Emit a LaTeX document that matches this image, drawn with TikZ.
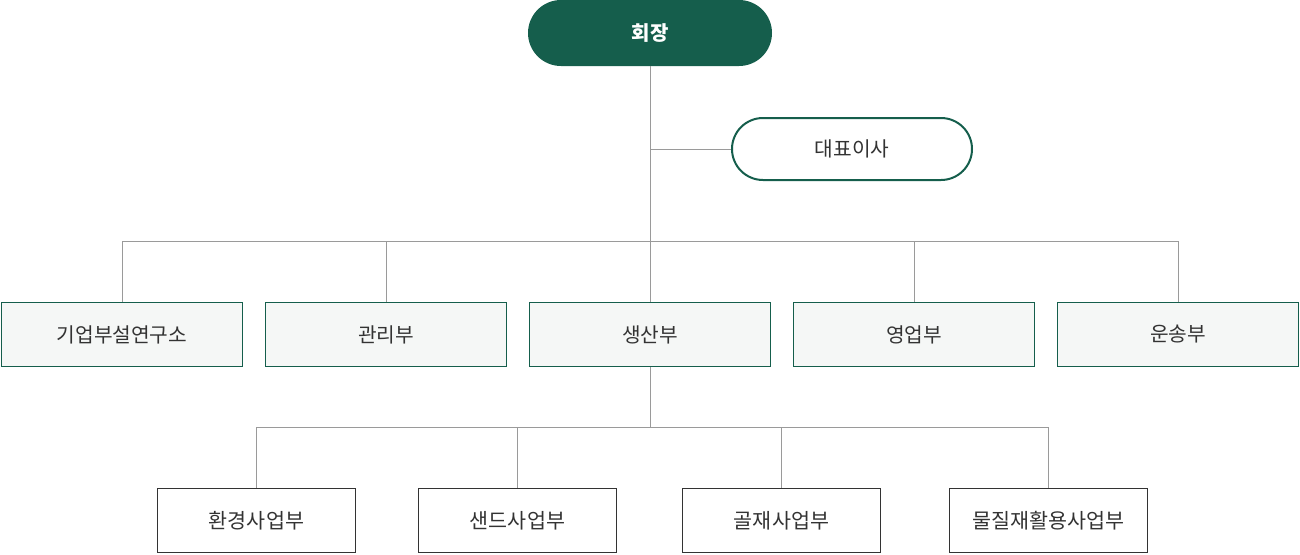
\documentclass[tikz,border=0pt]{standalone}
\usepackage{fontspec}
\setmainfont{Noto Sans CJK KR}
\usepackage{tikz}
\usetikzlibrary{shapes.misc}
\definecolor{orggreen}{HTML}{155E4C}
\definecolor{orgline}{HTML}{9A9A9A}
\definecolor{orgfill}{HTML}{F5F7F6}
\definecolor{orgtext}{HTML}{333333}
\tikzset{
  head box/.style = {rounded rectangle, fill=orggreen, text=white, font=\fontsize{15}{18}\selectfont\bfseries, minimum width=183pt, minimum height=49.5pt, inner sep=0pt},
  ceo box/.style = {rounded rectangle, draw=orggreen, line width=1.5pt, fill=white, text=orgtext, font=\fontsize{15.2}{18}\selectfont, minimum width=180pt, minimum height=46.5pt, inner sep=0pt},
  dept box/.style = {rectangle, draw=orggreen, line width=0.9pt, fill=orgfill, text=orgtext, font=\fontsize{15.2}{18}\selectfont, minimum width=181pt, minimum height=48.25pt, inner sep=0pt},
  team box/.style = {rectangle, draw=orgtext, line width=0.75pt, fill=white, text=orgtext, font=\fontsize{15.5}{18}\selectfont, minimum width=149pt, minimum height=48.25pt, inner sep=0pt},
  link/.style = {draw=orgline, line width=0.75pt}
}

\begin{document}
\begin{tikzpicture}[x=0.75pt, y=-0.75pt]
\useasboundingbox (0,0) rectangle (1300,554);

% -- top
\node[head box] (head) at (650,33) {회장};
\node[ceo box] (ceo) at (852,149) {대표이사};

% -- departments
\node[dept box] (lab) at (122,334.5) {기업부설연구소};
\node[dept box] (admin) at (386,334.5) {관리부};
\node[dept box] (prod) at (650,334.5) {생산부};
\node[dept box] (sales) at (914,334.5) {영업부};
\node[dept box] (trans) at (1178,334.5) {운송부};

% -- teams under production
\node[team box] (env) at (256.5,520.5) {환경사업부};
\node[team box] (sand) at (517.5,520.5) {샌드사업부};
\node[team box] (aggr) at (781.5,520.5) {골재사업부};
\node[team box] (recy) at (1048.5,520.5) {물질재활용사업부};

\coordinate (ceo joint) at (650,149);
\coordinate (dept joint) at (650,241);
\coordinate (team joint) at (650,427);

\begin{scope}[on background layer/.try]
\draw[link] (head.south) -- (prod.north);
\draw[link] (ceo joint) -- (ceo.west);
\foreach \d in {lab,admin,sales,trans}
  \draw[link] (dept joint -| \d.north) -- (\d.north);
\draw[link] (dept joint -| lab.north) -- (dept joint -| trans.north);
\draw[link] (prod.south) -- (team joint);
\foreach \t in {env,sand,aggr,recy}
  \draw[link] (team joint -| \t.north) -- (\t.north);
\draw[link] (team joint -| env.north) -- (team joint -| recy.north);
\end{scope}

\end{tikzpicture}
\end{document}
